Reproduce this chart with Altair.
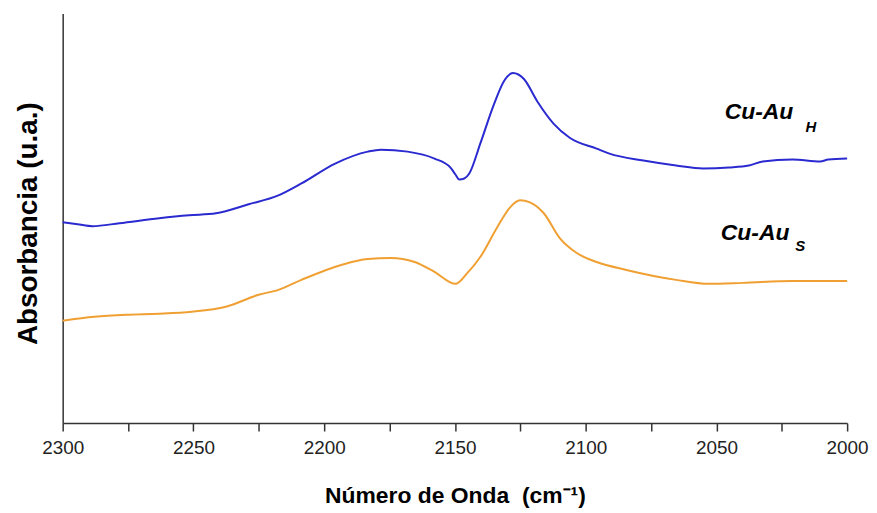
import altair as alt
import pandas as pd

# Cu-Au_H (blue) spectrum: wavenumber (cm-1) and absorbance (a.u.)
h_wn = [2300.0, 2294.3, 2288.6, 2278.3, 2263.1, 2251.7, 2241.4, 2228.9, 2217.5, 2208.7,
        2195.8, 2183.3, 2178.3, 2168.1, 2157.8, 2151.7, 2149.8, 2148.3, 2146.4, 2144.5,
        2140.3, 2135.0, 2131.2, 2127.8, 2123.6, 2118.6, 2112.2, 2106.1, 2095.8, 2090.9,
        2077.9, 2065.4, 2055.1, 2045.2, 2037.6, 2032.3, 2020.9, 2010.3, 2007.2, 2000.0]
h_abs = [202, 200, 198, 201, 206, 209, 211, 220, 229, 241,
         261, 273, 275, 273, 266, 257, 250, 245, 246, 251,
         281, 321, 344, 352, 346, 324, 301, 287, 276, 271,
         264, 259, 256, 257, 259, 263, 265, 263, 265, 266]

# Cu-Au_S (orange) spectrum
s_wn = [2300.0, 2287.8, 2275.7, 2263.1, 2250.6, 2237.6, 2225.1, 2217.5, 2208.7, 2193.5,
        2183.3, 2174.5, 2165.4, 2157.8, 2149.8, 2145.2, 2140.3, 2133.8, 2128.9, 2125.1,
        2121.3, 2116.0, 2109.9, 2103.4, 2095.8, 2084.4, 2065.4, 2052.9, 2039.9, 2020.9, 2000.0]
s_abs = [103, 107, 109, 110, 112, 117, 129, 134, 144, 159,
         165, 166, 162, 152, 140, 151, 167, 197, 217, 224,
         222, 211, 186, 171, 162, 154, 144, 140, 141, 143, 143]

# labels: main text, subscript
lab_text = ["Cu-Au", "H", "Cu-Au", "S"]
lab_wn = [2046.8, 2015.9, 2048.3, 2019.8]
lab_abs = [306, 293, 184, 173]
lab_size = [23, 15, 23, 15]

tick_vals = list(range(2300, 1999, -25))

df = pd.concat([
    pd.DataFrame({"wn": h_wn, "abs": h_abs, "s": "H", "o": range(len(h_wn))}),
    pd.DataFrame({"wn": s_wn, "abs": s_abs, "s": "S", "o": range(len(s_wn))}),
])
lab = pd.DataFrame({"t": lab_text, "wn": lab_wn, "abs": lab_abs, "size": lab_size})

xs = alt.Scale(domain=[2300, 2000], nice=False)
ys = alt.Scale(domain=[0, 412], nice=False)

lines = alt.Chart(df).mark_line(strokeWidth=2, interpolate="monotone").encode(
    x=alt.X("wn:Q", scale=xs,
            axis=alt.Axis(title="Número de Onda\u00a0\u00a0(cm⁻¹)", values=tick_vals, format="d",
                          labelExpr="datum.value % 50 == 0 ? datum.label : ''",
                          tickSize=8, labelPadding=8, grid=False, labelFlush=False,
                          labelOverlap=False,
                          titleFontSize=23, titleY=80, titleBaseline="alphabetic",
                          labelFontSize=19)),
    y=alt.Y("abs:Q", scale=ys,
            axis=alt.Axis(title="Absorbancia (u.a.)", ticks=False, labels=False, grid=False,
                          titleFontSize=28, titleX=-26, titleY=211, titleBaseline="alphabetic",
                          titleAngle=270, titleAlign="center")),
    color=alt.Color("s:N", scale=alt.Scale(domain=["H", "S"], range=["#2a2ad0", "#f0a032"]),
                    legend=None),
    order="o:Q",
)

texts = alt.Chart(lab).mark_text(align="left", baseline="alphabetic", fontWeight="bold",
                                 fontStyle="italic", font="Liberation Sans", color="black").encode(
    x=alt.X("wn:Q", scale=xs),
    y=alt.Y("abs:Q", scale=ys),
    text="t:N",
    size=alt.Size("size:Q", scale=None, legend=None),
)

chart = alt.layer(lines, texts).properties(
    width=789, height=412,
    autosize=alt.AutoSizeParams(type="none"),
    padding={"left": 55, "top": 4, "right": 22, "bottom": 90},
).configure_view(stroke=None).configure_axis(
    domainColor="#333333", tickColor="#333333", labelColor="#222222",
    titleColor="black", titleFontWeight="bold", domainWidth=1.5, tickWidth=1.5,
    labelFont="Liberation Sans", titleFont="Liberation Sans",
)

chart.save("out.html", embed_options={"renderer": "svg", "actions": False})
